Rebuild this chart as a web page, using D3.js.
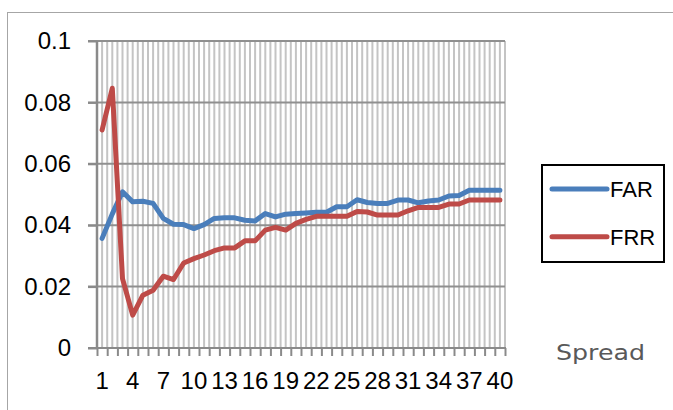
<!DOCTYPE html>
<html>
<head>
<meta charset="utf-8">
<script src="https://cdnjs.cloudflare.com/ajax/libs/d3/7.8.5/d3.min.js"></script>
<style>
  body { margin: 0; background: #fff; }
  svg { display: block; font-family: "Liberation Sans", Arial, sans-serif; }
</style>
</head>
<body>
<svg class="chart"></svg>
<script>
// spread values 1..40
var categories = d3.range(1, 41);
var far = [0.0357, 0.0437, 0.0509, 0.0476, 0.0478, 0.0471, 0.0422, 0.0403, 0.0402, 0.0389,
           0.0402, 0.0422, 0.0424, 0.0424, 0.0416, 0.0414, 0.0438, 0.0427, 0.0436, 0.0438,
           0.0440, 0.0442, 0.0442, 0.0460, 0.0460, 0.0483, 0.0474, 0.0471, 0.0471, 0.0482,
           0.0482, 0.0473, 0.0479, 0.0482, 0.0495, 0.0497, 0.0514, 0.0514, 0.0514, 0.0514];
var frr = [0.0710, 0.0846, 0.0226, 0.0107, 0.0172, 0.0188, 0.0234, 0.0223, 0.0277, 0.0291,
           0.0303, 0.0317, 0.0326, 0.0326, 0.0349, 0.0349, 0.0384, 0.0393, 0.0384, 0.0406,
           0.0419, 0.0429, 0.0429, 0.0429, 0.0429, 0.0445, 0.0443, 0.0433, 0.0433, 0.0433,
           0.0447, 0.0458, 0.0458, 0.0458, 0.0469, 0.0469, 0.0482, 0.0482, 0.0482, 0.0482];
var seriesNames = ["FAR", "FRR"];
var seriesColors = ["#4a7ebb", "#be4b48"];
var yTicks = [0, 0.02, 0.04, 0.06, 0.08, 0.1];
var yTickLabels = ["0", "0.02", "0.04", "0.06", "0.08", "0.1"];
var xTickLabels = [1, 4, 7, 10, 13, 16, 19, 22, 25, 28, 31, 34, 37, 40];
var xTitle = "Spread";

var margin = {top: 41, right: 168, bottom: 62, left: 97};
var chartWidth = 673 - margin.left - margin.right;
var chartHeight = 410 - margin.top - margin.bottom;

var svg = d3.select('.chart').attr("width", 673).attr("height", 410);

// outer chart border (runs off the right and bottom edges)
svg.append("rect")
   .attr("x", 7.5).attr("y", 12.5)
   .attr("width", 720).attr("height", 450)
   .attr("fill", "none").attr("stroke", "#a6a6a6").attr("stroke-width", 1);

var chart = svg.append("g").attr("transform", "translate(" + margin.left + "," + margin.top + ")");

var x = d3.scaleBand().domain(categories).range([0, chartWidth]).padding(0);
var xEdge = d3.scaleLinear().domain([0, categories.length]).range([0, chartWidth]);
var y = d3.scaleLinear().domain([0, 0.1]).range([chartHeight, 0]);

// vertical gridlines, every half category
chart.append("g").selectAll("line")
     .data(d3.range(1, categories.length * 2 + 1).map(function(d) { return d / 2; }))
     .enter().append("line")
     .attr("x1", function(d) { return xEdge(d); })
     .attr("x2", function(d) { return xEdge(d); })
     .attr("y1", 0).attr("y2", chartHeight)
     .attr("stroke", "#c4c4c4").attr("stroke-width", 2);

// horizontal gridlines
chart.append("g").selectAll("line")
     .data(yTicks.slice(1))
     .enter().append("line")
     .attr("x1", -9).attr("x2", chartWidth)
     .attr("y1", function(d) { return y(d); })
     .attr("y2", function(d) { return y(d); })
     .attr("stroke", "#8f8f8f").attr("stroke-width", 2);

//Add y-axis
var yAxis = chart.append("g")
  .call(d3.axisLeft(y).tickValues(yTicks).tickSize(9).tickPadding(17)
          .tickFormat(function(d, i) { return yTickLabels[i]; }));
yAxis.select(".domain").remove();
yAxis.selectAll(".tick line").attr("stroke", "#8a8a8a").attr("stroke-width", 2);
yAxis.selectAll("text").attr("fill", "#000")
     .style("font-size", "24px")
     .style("font-family", "Liberation Sans, Arial, sans-serif");
chart.append("line")
     .attr("x1", 0).attr("x2", 0).attr("y1", 0).attr("y2", chartHeight + 1)
     .attr("stroke", "#8a8a8a").attr("stroke-width", 2.5);

//Add x-axis tick marks at category edges
var xTickAxis = chart.append("g")
  .attr("transform", "translate(0," + chartHeight + ")")
  .call(d3.axisBottom(xEdge).tickValues(d3.range(0, categories.length + 1)).tickSize(8).tickFormat(""));
xTickAxis.select(".domain").remove();
xTickAxis.selectAll(".tick line").attr("stroke", "#8a8a8a").attr("stroke-width", 2);
chart.append("line")
     .attr("x1", -9).attr("x2", chartWidth + 1).attr("y1", chartHeight).attr("y2", chartHeight)
     .attr("stroke", "#8a8a8a").attr("stroke-width", 2);

//x-axis labels
var xAxis = chart.append("g")
  .attr("transform", "translate(0," + chartHeight + ")")
  .call(d3.axisBottom(x).tickValues(xTickLabels).tickSize(0).tickPadding(24));
xAxis.select(".domain").remove();
xAxis.selectAll("text").attr("fill", "#000")
     .style("font-size", "24px")
     .style("font-family", "Liberation Sans, Arial, sans-serif");

//Add the lines
var valueLine = d3.line()
  .x(function(d, i) { return x(categories[i]) + x.bandwidth() / 2; })
  .y(function(d) { return y(d); });

[far, frr].forEach(function(s, k) {
  chart.append("path")
       .datum(s)
       .attr("fill", "none")
       .attr("stroke", seriesColors[k])
       .attr("stroke-width", 5)
       .attr("stroke-linejoin", "round")
       .attr("stroke-linecap", "round")
       .attr("d", valueLine);
});

//Legend
var legend = svg.append("g");
legend.append("rect")
      .attr("x", 542).attr("y", 165)
      .attr("width", 122).attr("height", 97)
      .attr("fill", "#fff").attr("stroke", "#000").attr("stroke-width", 2);
seriesNames.forEach(function(name, k) {
  var ly = 189 + k * 47.7;
  legend.append("line")
        .attr("x1", 552).attr("x2", 607).attr("y1", ly).attr("y2", ly)
        .attr("stroke", seriesColors[k]).attr("stroke-width", 5).attr("stroke-linecap", "round");
  legend.append("text")
        .attr("x", 610).attr("y", ly + 8.3)
        .style("font-size", "22px").attr("fill", "#000")
        .text(name);
});

//Add text label for x-axis
svg.append("text")
   .attr("x", 556).attr("y", 360)
   .style("font-size", "22px")
   .attr("fill", "#595959")
   .attr("textLength", 89)
   .attr("lengthAdjust", "spacingAndGlyphs")
   .style("font-family", "DejaVu Sans, sans-serif")
   .text(xTitle);
</script>
</body>
</html>
